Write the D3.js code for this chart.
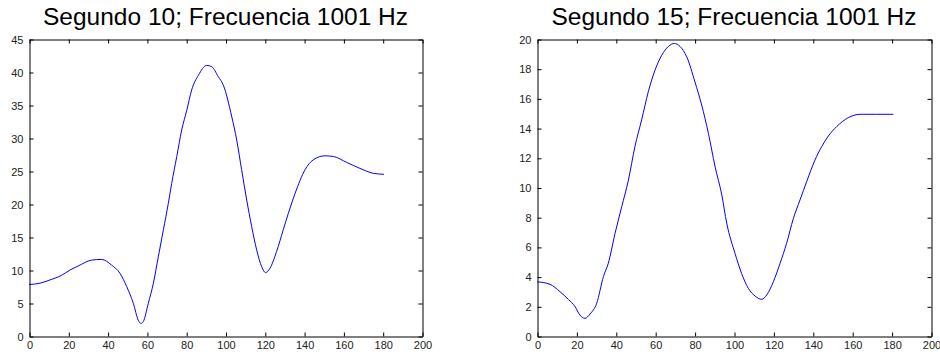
<!DOCTYPE html>
<html>
<head>
<meta charset="utf-8">
<script src="https://cdn.jsdelivr.net/npm/d3@7"></script>
<style>
  body { margin: 0; background: #fff; }
  svg { display: block; }
  .tick text { font-family: Arial, "Liberation Sans", sans-serif; font-size: 11px; fill: #222; }
  .title { font-family: Arial, "Liberation Sans", sans-serif; font-size: 24.5px; fill: #000; }
</style>
</head>
<body>
<div id="app"></div>
<script>
// Segundo 10 (left panel)
const x10 = [0, 5.6, 10.7, 16.6, 20.9, 25, 31.9, 37, 42, 46.3, 49.7, 53.1, 55.6, 57, 58.2, 60.7, 63.3, 65.8, 68.4, 70.9, 72.6, 75.2, 77.7, 80.3, 82.8, 86.2, 90.4, 93, 96.3, 98.9, 103.2, 105.7, 108.2, 110.8, 113.3, 115.9, 118.4, 120.4, 122.6, 126, 129.4, 132, 135.4, 140.5, 144.7, 150.6, 154.9, 161.7, 168.4, 175.2, 180.7];
const y10 = [7.8, 8.0, 8.5, 9.2, 10.0, 10.6, 11.5, 11.6, 10.75, 9.5, 7.5, 4.95, 2.4, 1.9, 2.2, 4.95, 8.0, 12, 16.1, 20.1, 23.1, 27.2, 31.2, 34.2, 37.3, 39.5, 41.0, 40.8, 39.3, 38.0, 33.2, 29.7, 25.2, 20.6, 16.6, 13.0, 10.5, 9.6, 10.25, 12.8, 16.1, 18.6, 21.6, 25.2, 26.7, 27.3, 27.2, 26.3, 25.4, 24.65, 24.5];

// Segundo 15 (right panel)
const x15 = [0, 6.6, 11.7, 15.9, 19.3, 21.8, 24.4, 26.9, 30.3, 33.7, 36.2, 39.6, 43, 46.4, 49.7, 53.1, 56.5, 59.9, 63.3, 66.7, 69.7, 72.6, 76, 80.2, 83.6, 87, 90.4, 93.8, 96.3, 100.5, 103.9, 107.3, 110.7, 114.1, 116.6, 120, 123.4, 126.7, 130.1, 133.5, 136.9, 141.1, 144.5, 147.9, 152.1, 158, 164, 172.4, 180.9];
const y15 = [3.65, 3.48, 2.98, 2.47, 1.98, 1.41, 1.19, 1.48, 2.2, 4.0, 4.9, 6.9, 8.7, 10.5, 12.75, 14.55, 16.45, 17.9, 18.9, 19.5, 19.7, 19.5, 18.8, 17.1, 15.55, 13.65, 11.4, 9.5, 7.6, 5.57, 4.2, 3.2, 2.69, 2.47, 2.76, 3.66, 4.9, 6.24, 7.9, 9.16, 10.4, 11.85, 12.75, 13.47, 14.1, 14.7, 14.93, 14.93, 14.93];

const xTicks = [0, 20, 40, 60, 80, 100, 120, 140, 160, 180, 200];
const yTicks10 = [0, 5, 10, 15, 20, 25, 30, 35, 40, 45];
const yTicks15 = [0, 2, 4, 6, 8, 10, 12, 14, 16, 18, 20];

const panels = [
  { title: "Segundo 10; Frecuencia 1001 Hz", xs: x10, ys: y10, yMax: 45, yTicks: yTicks10, left: 29, right: 422 },
  { title: "Segundo 15; Frecuencia 1001 Hz", xs: x15, ys: y15, yMax: 20, yTicks: yTicks15, left: 537, right: 931 }
];

const width = 940, height = 356;
const plotTop = 39, plotBottom = 336;

const svg = d3.select("#app").append("svg")
  .attr("width", width)
  .attr("height", height);

panels.forEach((p) => {
  const x = d3.scaleLinear().domain([0, 200]).range([p.left, p.right]);
  const y = d3.scaleLinear().domain([0, p.yMax]).range([plotBottom, plotTop]);
  const g = svg.append("g").attr("transform", "translate(0.5,0.5)");

  // ejes (ticks hacia dentro, caja completa)
  g.append("g")
    .attr("transform", `translate(0,${plotBottom})`)
    .call(d3.axisBottom(x).tickValues(xTicks).tickSizeInner(-4).tickSizeOuter(0).tickPadding(5));
  g.append("g")
    .attr("transform", `translate(0,${plotTop})`)
    .call(d3.axisTop(x).tickValues(xTicks).tickSizeInner(-4).tickSizeOuter(0).tickFormat(""));
  g.append("g")
    .attr("transform", `translate(${p.left},0)`)
    .call(d3.axisLeft(y).tickValues(p.yTicks).tickSizeInner(-4).tickSizeOuter(0).tickPadding(6));
  g.append("g")
    .attr("transform", `translate(${p.right},0)`)
    .call(d3.axisRight(y).tickValues(p.yTicks).tickSizeInner(-4).tickSizeOuter(0).tickFormat(""));

  g.selectAll(".domain").attr("stroke", "#000");
  g.selectAll(".tick line").attr("stroke", "#000");

  // curva
  const line = d3.line()
    .x((d, i) => x(p.xs[i]))
    .y((d) => y(d))
    .curve(d3.curveMonotoneX);
  svg.append("path")
    .datum(p.ys)
    .attr("fill", "none")
    .attr("stroke", "#0000ff")
    .attr("stroke-width", 1)
    .attr("d", line);

  svg.append("text")
    .attr("class", "title")
    .attr("x", (p.left + p.right) / 2)
    .attr("y", 25)
    .attr("text-anchor", "middle")
    .text(p.title);
});
</script>
</body>
</html>
